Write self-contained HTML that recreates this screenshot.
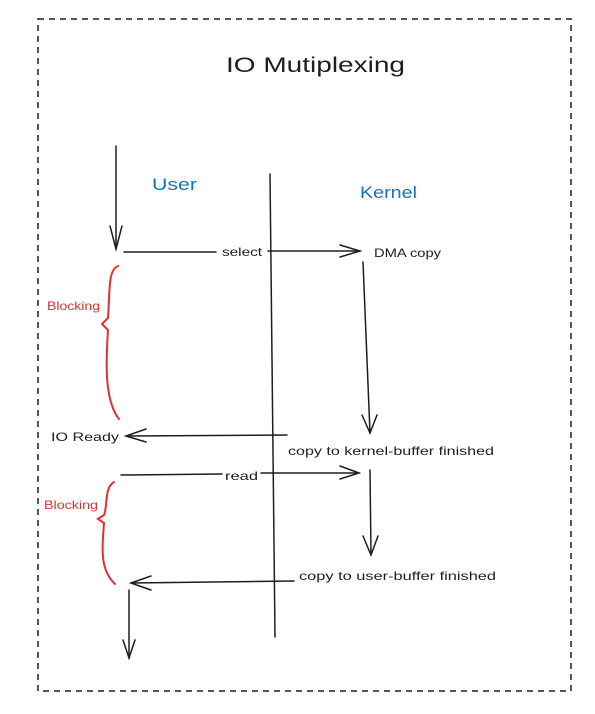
<!DOCTYPE html>
<html><head><style>html,body{margin:0;padding:0;background:#fff}svg{display:block}text{font-family:"Liberation Sans",sans-serif}</style></head><body>
<svg width="595" height="714" viewBox="0 0 595 714" xmlns="http://www.w3.org/2000/svg">
<rect x="38" y="19" width="533" height="672" fill="none" stroke="#1e1e1e" stroke-width="1.5" stroke-dasharray="6 5"/>
<text x="226" y="72" font-size="21" textLength="179" lengthAdjust="spacingAndGlyphs" fill="#1e1e1e">IO Mutiplexing</text>
<text x="152" y="190" font-size="17" textLength="45" lengthAdjust="spacingAndGlyphs" fill="#1971c2">User</text>
<text x="360" y="198" font-size="17" textLength="57" lengthAdjust="spacingAndGlyphs" fill="#1971c2">Kernel</text>
<g stroke="#1e1e1e" stroke-width="1.5" fill="none" stroke-linecap="round">
<line x1="270" y1="174" x2="275" y2="637"/>
<line x1="116" y1="146" x2="116" y2="249"/><polyline points="110,226 116,249 122,226"/>
<line x1="124" y1="252" x2="216" y2="252"/><line x1="268" y1="251" x2="360" y2="251"/><polyline points="340,245 360,251 340,257"/>
<line x1="363" y1="262" x2="370" y2="433"/><polyline points="362,415 370,433 377,415"/>
<line x1="287" y1="435" x2="126" y2="436"/><polyline points="146,429 126,436 146,442"/>
<line x1="121" y1="475" x2="222" y2="474"/><line x1="261" y1="473" x2="359" y2="473"/><polyline points="340,466 359,473 340,479"/>
<line x1="370" y1="470" x2="371" y2="555"/><polyline points="363,536 371,555 378,536"/>
<line x1="294" y1="581" x2="131" y2="583"/><polyline points="151,576 131,583 151,590"/>
<line x1="129" y1="590" x2="129" y2="658"/><polyline points="123,640 129,658 135,640"/>
</g>
<g stroke="#e03131" stroke-width="2" fill="none" stroke-linecap="round">
<path d="M118,266 C108,270 110,290 108,318 L102,324 L108,330 C106,360 104,400 119,419"/>
<path d="M114,482 C104,488 108,505 104,515 L98,519 L104,523 C102,550 100,570 115,584"/>
</g>
<text x="47" y="310" font-size="12" textLength="53" lengthAdjust="spacingAndGlyphs" fill="#e03131">Blocking</text>
<text x="44" y="509" font-size="12" textLength="54" lengthAdjust="spacingAndGlyphs" fill="#e03131">Blocking</text>
<g font-size="12" fill="#1e1e1e" lengthAdjust="spacingAndGlyphs">
<text x="222" y="256" textLength="40" lengthAdjust="spacingAndGlyphs">select</text>
<text x="374" y="257" textLength="67" lengthAdjust="spacingAndGlyphs">DMA copy</text>
<text x="51" y="441" textLength="68" lengthAdjust="spacingAndGlyphs">IO Ready</text>
<text x="288" y="455" textLength="206" lengthAdjust="spacingAndGlyphs">copy to kernel-buffer finished</text>
<text x="225" y="480" textLength="33" lengthAdjust="spacingAndGlyphs">read</text>
<text x="299" y="580" textLength="197" lengthAdjust="spacingAndGlyphs">copy to user-buffer finished</text>
</g>
</svg>
</body></html>
